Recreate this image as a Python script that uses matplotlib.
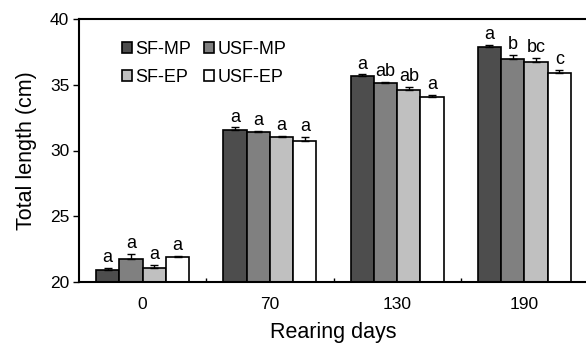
import matplotlib
matplotlib.use("Agg")
import matplotlib.pyplot as plt
import numpy as np

plt.rcParams['font.family'] = ['Liberation Sans', 'DejaVu Sans']

days = ["0", "70", "130", "190"]
series = ["SF-MP", "USF-MP", "SF-EP", "USF-EP"]
colors = ["#4d4d4d", "#808080", "#c0c0c0", "#ffffff"]
values = {
    "SF-MP":  [20.9, 31.55, 35.7, 37.9],
    "USF-MP": [21.75, 31.4, 35.1, 36.95],
    "SF-EP":  [21.1, 31.05, 34.6, 36.75],
    "USF-EP": [21.9, 30.7, 34.1, 35.9],
}
errors = {
    "SF-MP":  [0.2, 0.2, 0.08, 0.15],
    "USF-MP": [0.35, 0.12, 0.12, 0.3],
    "SF-EP":  [0.2, 0.08, 0.25, 0.3],
    "USF-EP": [0.06, 0.3, 0.12, 0.22],
}
letters = {
    "SF-MP":  ["a", "a", "a", "a"],
    "USF-MP": ["a", "a", "ab", "b"],
    "SF-EP":  ["a", "a", "ab", "bc"],
    "USF-EP": ["a", "a", "a", "c"],
}

fig = plt.figure(figsize=(5.86, 3.51), dpi=100)
ax = fig.add_axes([79/586, 1-282/351, 509/586, 263/351])

x = np.arange(len(days))
w = 0.183
handles = {}
for i, s in enumerate(series):
    xs = x + (i - 1.5) * w
    v = np.array(values[s])
    e = np.array(errors[s])
    b = ax.bar(xs, v - 20, w, bottom=20, color=colors[i], edgecolor='black',
               linewidth=1.2, label=s, zorder=2)
    handles[s] = b
    ax.errorbar(xs, v, yerr=[np.zeros_like(e), e], fmt='none', ecolor='black',
                elinewidth=1.0, capsize=3, capthick=1.0, zorder=3)
    for xi, vi, ei, li in zip(xs, v, e, letters[s]):
        ax.text(xi, vi + ei + 0.15, li, ha='center', va='bottom', fontsize=13)

ax.set_ylim(20, 40)
ax.set_xlim(-0.5, 3.5)
ax.set_yticks([20, 25, 30, 35, 40])
ax.set_xticks(x)
ax.set_xticklabels(days)
ax.set_xticks([0.5, 1.5, 2.5], minor=True)
ax.tick_params(axis='x', which='major', length=0, labelsize=12.5, pad=11)
ax.tick_params(axis='x', which='minor', length=3, direction='in', width=1)
ax.tick_params(axis='y', length=4, direction='out', width=1, labelsize=12.5, pad=3)

for sp in ['left', 'bottom', 'top']:
    ax.spines[sp].set_linewidth(1.5)
ax.spines['right'].set_visible(False)

ax.set_xlabel("Rearing days", fontsize=15.5, labelpad=7)
ax.set_ylabel("Total length (cm)", fontsize=15.5, labelpad=9)

order = ["SF-MP", "SF-EP", "USF-MP", "USF-EP"]
ax.legend([handles[s] for s in order], order, ncol=2, loc='upper left',
          bbox_to_anchor=(0.07, 0.945), frameon=False, fontsize=13,
          handlelength=0.55, handleheight=0.55, handletextpad=0.2,
          columnspacing=0.7, labelspacing=0.6, borderaxespad=0)

fig.savefig("out.png", dpi=100)
